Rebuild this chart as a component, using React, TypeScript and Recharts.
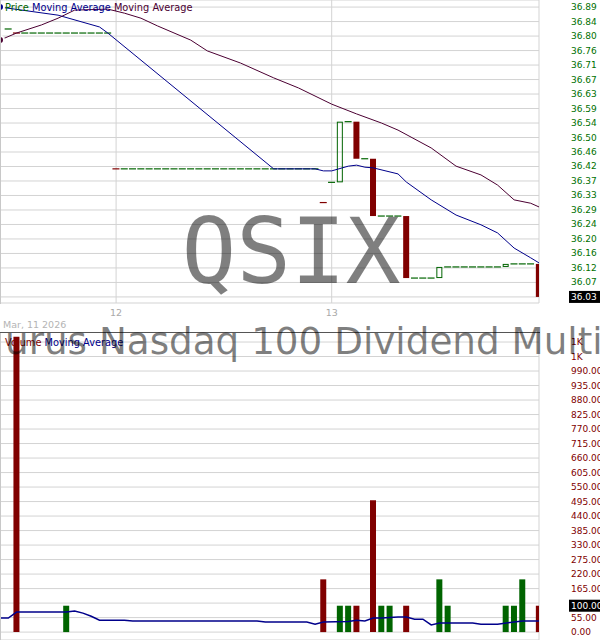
import React from "react";
import {
  ComposedChart,
  CartesianGrid,
  ReferenceLine,
  XAxis,
  YAxis,
  Line,
  Bar,
  Cell,
} from "recharts";

const FONT = "'DejaVu Sans', sans-serif";
const GREEN = "#006400";
const RED = "#800000";
const BLUE = "#00008b";
const PURPLE = "#4b0032";
const GRID = "#d3d3d3";

// 15 minute slots: 0-13 end of Mar 11, 14-39 Mar 12, 40-65 Mar 13
const dayTicks = [14, 40];
const dayLabels = ["12", "13"];

const openMar11 = [null, 36.825, 36.813, 36.813, 36.813, 36.813, 36.813, 36.813, 36.813, 36.813, 36.813, 36.813, 36.813, 36.813];
const closeMar11 = [null, 36.825, 36.813, 36.813, 36.813, 36.813, 36.813, 36.813, 36.813, 36.813, 36.813, 36.813, 36.813, 36.813];
const openMar12 = [36.41, 36.41, 36.41, 36.41, 36.41, 36.41, 36.41, 36.41, 36.41, 36.41, 36.41, 36.41, 36.41, 36.41, 36.41, 36.41, 36.41, 36.41, 36.41, 36.41, 36.41, 36.41, 36.41, 36.41, 36.41, 36.31];
const closeMar12 = [36.41, 36.41, 36.41, 36.41, 36.41, 36.41, 36.41, 36.41, 36.41, 36.41, 36.41, 36.41, 36.41, 36.41, 36.41, 36.41, 36.41, 36.41, 36.41, 36.41, 36.41, 36.41, 36.41, 36.41, 36.41, 36.31];
const openMar13 = [36.37, 36.37, 36.55, 36.55, 36.44, 36.44, 36.27, 36.27, 36.27, 36.27, 36.086, 36.086, 36.086, 36.086, 36.119, 36.119, 36.119, 36.119, 36.119, 36.119, 36.119, 36.119, 36.128, 36.128, 36.128, 36.128];
const closeMar13 = [36.37, 36.55, 36.55, 36.44, 36.44, 36.27, 36.27, 36.27, 36.27, 36.086, 36.086, 36.086, 36.086, 36.119, 36.119, 36.119, 36.119, 36.119, 36.119, 36.119, 36.119, 36.128, 36.128, 36.128, 36.128, 36.03];

const volumeMar11 = [0, 0, 1120, 0, 0, 0, 0, 0, 100, 0, 0, 0, 0, 0];
const volumeMar12 = [0, 0, 0, 0, 0, 0, 0, 0, 0, 0, 0, 0, 0, 0, 0, 0, 0, 0, 0, 0, 0, 0, 0, 0, 0, 200];
const volumeMar13 = [0, 100, 100, 100, 0, 500, 100, 100, 0, 100, 0, 0, 0, 200, 100, 0, 0, 0, 0, 0, 0, 100, 100, 200, 0, 100];

// [slot, value]
const fastMA = [
  [0, 36.89], [7, 36.866], [12, 36.831], [13, 36.813], [33, 36.41], [38, 36.41],
  [39, 36.404], [40, 36.404], [42, 36.418], [43, 36.421], [44, 36.415], [45, 36.413],
  [48, 36.395], [49, 36.371], [52, 36.318], [55, 36.273], [58, 36.244], [60, 36.22],
  [62, 36.175], [64, 36.146], [65, 36.131],
];
const slowMA = [
  [0, 36.792], [2, 36.813], [5, 36.837], [7, 36.857], [9, 36.881], [13, 36.884],
  [15, 36.872], [17, 36.857], [19, 36.834], [23, 36.792], [25, 36.76], [29, 36.724],
  [33, 36.68], [36, 36.65], [40, 36.602], [43, 36.573], [46, 36.546], [48, 36.525],
  [52, 36.472], [55, 36.418], [58, 36.392], [60, 36.362], [62, 36.318], [64, 36.308],
  [65, 36.297],
];
const volumeMA = [
  [0, 53], [1, 53], [2, 76], [8, 76], [9, 80], [10, 72], [11, 60], [12, 45], [15, 45],
  [16, 42], [31, 42], [32, 38], [37, 38], [38, 30], [39, 38], [42, 40], [43, 45],
  [44, 42], [45, 53], [46, 53], [48, 57], [49, 57], [50, 49], [51, 49], [52, 27],
  [53, 34], [57, 34], [58, 30], [60, 30], [62, 38], [63, 42], [65, 42],
];

const priceTickLabels = ["36.03", "36.07", "36.12", "36.16", "36.20", "36.24", "36.29", "36.33", "36.37", "36.42", "36.46", "36.50", "36.54", "36.59", "36.63", "36.67", "36.71", "36.76", "36.80", "36.84", "36.89"];
const volumeTicks = [0, 55, 110, 165, 220, 275, 330, 385, 440, 495, 550, 605, 660, 715, 770, 825, 880, 935, 990, 1045, 1100];

const priceTickValues = priceTickLabels.map((_, k) => 36.03 + k * 0.043);

const opens = [...openMar11, ...openMar12, ...openMar13];
const closes = [...closeMar11, ...closeMar12, ...closeMar13];
const volumes = [...volumeMar11, ...volumeMar12, ...volumeMar13];
const fastMap = new Map(fastMA.map(([s, v]) => [s, v]));
const slowMap = new Map(slowMA.map(([s, v]) => [s, v]));
const volMaMap = new Map(volumeMA.map(([s, v]) => [s, v]));

const rows = closes.map((close, i) => {
  const open = opens[i];
  const prev = i > 0 ? closes[i - 1] : null;
  const up =
    close == null || open == null
      ? true
      : close > open || (close === open && (prev == null || close >= prev));
  return {
    slot: i,
    open,
    close,
    range: close == null || open == null ? null : [Math.min(open, close), Math.max(open, close)],
    up,
    volume: volumes[i],
    maFast: fastMap.has(i) ? fastMap.get(i) : null,
    maSlow: slowMap.has(i) ? slowMap.get(i) : null,
    volMa: volMaMap.has(i) ? volMaMap.get(i) : null,
  };
});

const lastClose = closes[closes.length - 1] as number;
const lastVolume = volumes[volumes.length - 1];

const Candle = (props: any) => {
  const { x, y, width, height, payload } = props;
  if (!payload || payload.range == null) return null;
  const color = payload.up ? GREEN : RED;
  if (Math.abs(height) < 0.5) {
    return (
      <line x1={x - 0.5} x2={x + width + 0.5} y1={y} y2={y} stroke={color} strokeWidth={1.2} />
    );
  }
  if (payload.up) {
    return (
      <rect x={x + 0.5} y={y + 0.5} width={width - 1} height={height - 1} fill="none" stroke={color} strokeWidth={1} />
    );
  }
  return <rect x={x} y={y} width={width} height={height} fill={color} />;
};

const DayTick = (props: any) => {
  const { x, y, index } = props;
  return (
    <text x={x} y={y + 9} textAnchor="middle" dominantBaseline="central" fontSize={9.5} fontFamily={FONT} fill="#a9a9a9">
      {dayLabels[index]}
    </text>
  );
};

const PriceTick = (props: any) => {
  const { x, y, index } = props;
  if (index === 0) return null;
  return (
    <text x={x + 32} y={y} dominantBaseline="central" fontSize={9} fontFamily={FONT} fill="#007000">
      {priceTickLabels[index]}
    </text>
  );
};

const VolumeTick = (props: any) => {
  const { x, y, payload } = props;
  const v = payload.value;
  if (Math.abs(v - lastVolume) < 27) return null;
  return (
    <text x={x + 32} y={y} dominantBaseline="central" fontSize={9} fontFamily={FONT} fill={RED}>
      {v >= 1000 ? "1K" : v.toFixed(2)}
    </text>
  );
};

const ValueBox = (props: any) => {
  const { viewBox, text } = props;
  if (!viewBox) return null;
  const bx = viewBox.x + viewBox.width + 30;
  return (
    <g>
      <rect x={bx} y={viewBox.y - 6} width={32} height={12} fill="#000" />
      <text x={bx + 2} y={viewBox.y} dominantBaseline="central" fontSize={9} fontFamily={FONT} fill="#fff">
        {text}
      </text>
    </g>
  );
};

export default function App() {
  return (
    <div style={{ position: "fixed", left: 0, top: 0, width: 600, height: 640, background: "#fff", overflow: "hidden" }}>
      <div style={{ position: "absolute", left: 0, top: 0 }}>
        <ComposedChart width={600} height={318} data={rows} margin={{ top: 0, right: 0, bottom: 0, left: 0 }}>
          <CartesianGrid stroke={GRID} />
          <XAxis
            dataKey="slot"
            type="number"
            domain={[0, 65]}
            ticks={dayTicks}
            interval={0}
            height={15}
            tick={<DayTick />}
            tickLine={false}
            axisLine={false}
            tickSize={0}
            tickMargin={0}
            allowDataOverflow
          />
          <YAxis
            orientation="right"
            type="number"
            domain={[36.012, 36.911]}
            ticks={priceTickValues}
            interval={0}
            width={61}
            tick={<PriceTick />}
            tickLine={false}
            axisLine={false}
            tickSize={0}
            tickMargin={0}
            allowDataOverflow
          />
          <Bar dataKey="range" barSize={6} shape={(p: any) => <Candle {...p} />} isAnimationActive={false} />
          <Line dataKey="maFast" type="linear" stroke={BLUE} strokeWidth={1} dot={false} connectNulls isAnimationActive={false} />
          <Line dataKey="maSlow" type="linear" stroke={PURPLE} strokeWidth={1} dot={false} connectNulls isAnimationActive={false} />
          <ReferenceLine y={lastClose} stroke="none" label={<ValueBox text={lastClose.toFixed(2)} />} />
        </ComposedChart>
      </div>
      <div style={{ position: "absolute", left: 0, top: 332 }}>
        <ComposedChart width={600} height={308} data={rows} margin={{ top: 0, right: 0, bottom: 0, left: 0 }}>
          <CartesianGrid stroke={GRID} />
          <XAxis
            dataKey="slot"
            type="number"
            domain={[0, 65]}
            ticks={dayTicks}
            interval={0}
            height={0}
            tick={false}
            tickLine={false}
            axisLine={false}
            allowDataOverflow
          />
          <YAxis
            orientation="right"
            type="number"
            domain={[-30, 1138]}
            ticks={volumeTicks}
            interval={0}
            width={61}
            tick={<VolumeTick />}
            tickLine={false}
            axisLine={false}
            tickSize={0}
            tickMargin={0}
            allowDataOverflow
          />
          <Bar dataKey="volume" barSize={6} isAnimationActive={false}>
            {rows.map((r, i) => (
              <Cell key={i} fill={r.up ? GREEN : RED} />
            ))}
          </Bar>
          <Line dataKey="volMa" type="linear" stroke={BLUE} strokeWidth={1.5} dot={false} connectNulls isAnimationActive={false} />
          <ReferenceLine y={lastVolume} stroke="none" label={<ValueBox text={lastVolume.toFixed(2)} />} />
        </ComposedChart>
      </div>
      <svg width={600} height={640} style={{ position: "absolute", left: 0, top: 0, pointerEvents: "none" }}>
        <line x1={0.5} x2={0.5} y1={0} y2={304} stroke="#c8c8c8" />
        <line x1={0.5} x2={0.5} y1={332} y2={640} stroke="#c8c8c8" />
        <line x1={0} x2={540} y1={332.5} y2={332.5} stroke="#555" />
        <text x={3} y={324} dominantBaseline="central" fontSize={9.5} fontFamily={FONT} fill="#b4b4b4">
          Mar, 11 2026
        </text>
        <text x={5} y={7} dominantBaseline="central" fontSize={9.8} fontFamily={FONT}>
          <tspan fill={GREEN}>Price</tspan>
          <tspan fill={BLUE}> Moving Average</tspan>
          <tspan fill={PURPLE}> Moving Average</tspan>
        </text>
        <text x={5} y={342} dominantBaseline="central" fontSize={9.8} fontFamily={FONT}>
          <tspan fill={RED}>Volume</tspan>
          <tspan fill={BLUE}> Moving Average</tspan>
        </text>
        <text x={291} y={283} textAnchor="middle" fontSize={91} fontFamily="'DejaVu Sans Mono', monospace" fill="#000" fillOpacity={0.5}>
          QSIX
        </text>
        <text x={5} y={354} fontSize={37.3} fontFamily={FONT} fill="#000" fillOpacity={0.5}>
          urus Nasdaq 100 Dividend Multi
        </text>
      </svg>
    </div>
  );
}
